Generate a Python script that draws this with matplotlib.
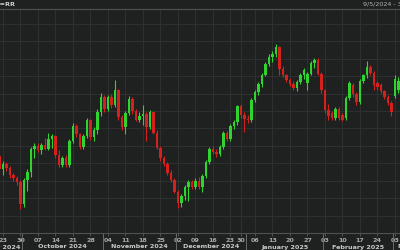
import numpy as np
import pandas as pd
import matplotlib
matplotlib.use("Agg")
import matplotlib.pyplot as plt
import matplotlib.transforms as mtransforms

# ---------------- data (levels, no visible y scale) ----------------
start_date = "2024-09-20"
end_date = "2025-03-04"
holidays = ["2024-12-25", "2024-12-26", "2025-01-01"]
first_data_date = "2024-09-05"
title_text = "US10YT=RR"
range_text = "9/5/2024 - 3/4/2025"

opens = [84, 70, 76, 71, 64, 60, 56, 33, 58, 67, 91, 95, 90, 96, 92, 102, 105, 85, 74, 82,
         74, 100, 116, 107, 94, 105, 122, 104, 112, 131, 147, 134, 147, 138, 154, 126, 115, 130,
         145, 132, 123, 127, 129, 115, 131, 109, 93, 82, 76, 66, 58, 46, 34, 41, 51, 56, 51, 57,
         51, 63, 78, 92, 88, 86, 94, 109, 102, 116, 120, 137, 128, 124, 122, 144, 152, 161, 171,
         182, 190, 193, 200, 177, 170, 165, 161, 157, 163, 170, 162, 172, 183, 187, 172, 154, 133,
         130, 125, 134, 128, 125, 146, 160, 150, 142, 164, 170, 179, 173, 162, 160, 153, 147, 141,
         148, 155]
closes = [70, 76, 71, 64, 60, 56, 33, 58, 67, 91, 95, 90, 96, 92, 102, 105, 85, 74, 82, 74,
          100, 116, 107, 94, 105, 122, 104, 112, 131, 147, 134, 147, 138, 154, 126, 115, 130, 145,
          132, 123, 127, 129, 115, 131, 109, 93, 82, 76, 66, 58, 46, 34, 41, 51, 56, 51, 57, 51,
          63, 78, 92, 88, 86, 94, 109, 102, 116, 120, 137, 128, 124, 122, 144, 152, 161, 171, 182,
          190, 193, 200, 177, 170, 165, 161, 157, 163, 170, 176, 172, 183, 187, 172, 154, 133, 127,
          125, 134, 125, 123, 146, 162, 150, 142, 164, 170, 179, 173, 160, 158, 153, 147, 141, 131,
          166, 164]
highs = [87, 79, 78, 73, 66, 63, 58, 60, 70, 94, 98, 98, 98, 103, 109, 107, 106, 90, 84, 85,
         102, 119, 118, 109, 108, 125, 124, 115, 134, 151, 149, 149, 150, 165, 156, 128, 132, 148,
         147, 134, 131, 138, 131, 133, 132, 112, 95, 84, 78, 69, 60, 48, 43, 53, 58, 58, 60, 62,
         65, 80, 94, 95, 91, 96, 111, 111, 118, 122, 139, 140, 131, 128, 146, 154, 163, 173, 184,
         193, 196, 204, 202, 180, 172, 167, 164, 165, 173, 178, 174, 186, 189, 189, 174, 156, 140,
         132, 136, 136, 130, 148, 164, 162, 152, 166, 172, 185, 181, 175, 164, 162, 155, 149, 143,
         170, 168]
lows = [67, 64, 68, 61, 57, 53, 27, 30, 47, 62, 82, 88, 86, 90, 90, 93, 82, 72, 72, 72,
        72, 98, 104, 91, 92, 103, 101, 100, 107, 127, 131, 132, 135, 136, 123, 112, 108, 128,
        129, 121, 120, 117, 100, 113, 107, 91, 79, 73, 64, 56, 44, 29, 30, 37, 36, 49, 49, 49,
        46, 60, 76, 86, 83, 84, 92, 100, 100, 113, 117, 125, 110, 119, 120, 142, 149, 158, 169,
        180, 184, 190, 170, 168, 163, 159, 155, 153, 161, 166, 155, 170, 178, 170, 151, 130, 123,
        123, 122, 123, 121, 122, 144, 147, 139, 140, 162, 167, 170, 154, 155, 151, 145, 139, 127,
        146, 151]

# ---------------- style ----------------
BG = "#1f2020"
GRID = "#2d2f30"
UP = "#2fd42f"
DOWN = "#d4211d"
TXT = "#a9a9a9"
TXT2 = "#c9c9c9"

dates = pd.bdate_range(start_date, end_date)
dates = dates[~dates.isin(pd.to_datetime(holidays))]
n = min(len(dates), len(opens))
dates = dates[:n]
x = np.arange(n)
o = np.array(opens[:n], float)
c = np.array(closes[:n], float)
h = np.array(highs[:n], float)
l = np.array(lows[:n], float)

W, H = 400, 250
fig = plt.figure(figsize=(4, 2.5), dpi=100, facecolor=BG)
ax_bottom_px, ax_top_px = 17, 9
ax = fig.add_axes([0, ax_bottom_px / H, 1, (H - ax_bottom_px - ax_top_px) / H])
ax.set_facecolor(BG)

# pixel mapping: candle index 1 (Sep 23) at x=3 px, 3.5 px per day
ax.set_xlim((0 - 3) / 3.5 + 1, (W - 3) / 3.5 + 1)
ax.set_ylim(17, 241)

# grid
ax.set_yticks(np.arange(225, 0, -18.6))
mondays = [i for i, d in enumerate(dates) if d.weekday() == 0]
ax.set_xticks(mondays)
ax.set_xticklabels([dates[i].strftime("%d") for i in mondays])
ax.grid(True, color=GRID, linewidth=0.8)
ax.set_axisbelow(True)
ax.tick_params(axis="y", left=False, labelleft=False)
ax.tick_params(axis="x", length=2.5, width=0.6, color="#5a5a5a", labelsize=4.6,
               labelcolor=TXT, pad=1.2)
for lab in ax.get_xticklabels():
    lab.set_fontweight("bold")

for s in ["left", "right"]:
    ax.spines[s].set_visible(False)
ax.spines["top"].set_color("#4b4d4e")
ax.spines["top"].set_linewidth(0.9)
ax.spines["bottom"].set_color("#4f5152")
ax.spines["bottom"].set_linewidth(0.8)

# candles
up = c >= o
colors = np.where(up, UP, DOWN)
ax.vlines(x, l, h, colors=colors, linewidth=0.8, zorder=2)
body_bottom = np.minimum(o, c)
body_h = np.maximum(np.abs(c - o), 0.8)
ax.bar(x, body_h, bottom=body_bottom, width=0.68, color=colors, linewidth=0, zorder=3)

# month separators and labels
trans = mtransforms.blended_transform_factory(ax.transData, ax.transAxes)
ax_h_px = H - ax_bottom_px - ax_top_px
month_periods = dates.to_period("M")
first_idx = {}
last_idx = {}
for i, p in enumerate(month_periods):
    first_idx.setdefault(p, i)
    last_idx[p] = i
# days before the visible start for the first month (data began at first_data_date)
pre_days = len(pd.bdate_range(first_data_date, dates[0])) - 1
for p in first_idx:
    fi, li = first_idx[p], last_idx[p]
    if fi > 0:
        ax.plot([fi - 0.5, fi - 0.5], [0, -ax_bottom_px / ax_h_px], transform=trans,
                color="#6a6a6a", linewidth=0.7, clip_on=False)
    label = pd.Timestamp(p.start_time).strftime("%B %Y")
    if fi == 0:
        center = (-pre_days + li) / 2
        ha = "center"
    elif li == n - 1 and (li - fi) < 5:
        center = fi + 1.0
        ha = "left"
    else:
        center = (fi + li) / 2
        ha = "center"
    ax.text(center, -14 / ax_h_px, label, transform=trans, ha=ha, va="center",
            fontsize=4.6, color=TXT2, fontweight="bold", clip_on=False)

# header
fig.text(15 / W, 1 - 4.5 / H, title_text, ha="right", va="center", fontsize=4.6,
         color="#d0d0d0", fontweight="bold")
fig.text(363 / W, 1 - 4.5 / H, range_text, ha="left", va="center", fontsize=4.6,
         color="#b0b0b0")

fig.savefig("out.png", dpi=100, facecolor=BG)
